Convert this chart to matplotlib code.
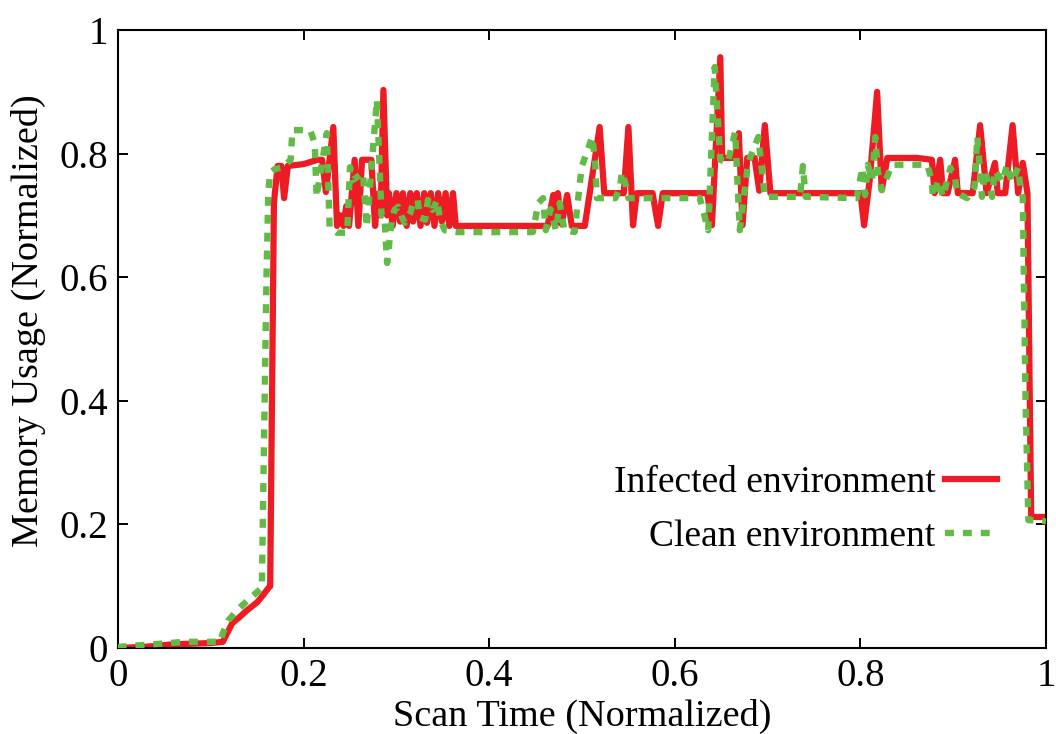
import matplotlib
matplotlib.use("Agg")
import matplotlib.pyplot as plt

# Infected environment (red, solid)
infected_x = [0.000, 0.030, 0.060, 0.100, 0.113, 0.118, 0.123, 0.131, 0.139, 0.145, 0.150, 0.156, 0.162,
              0.164, 0.168, 0.172, 0.176, 0.179, 0.183, 0.200, 0.215, 0.220, 0.224, 0.232, 0.236,
              0.240, 0.243, 0.246, 0.249, 0.255, 0.259, 0.263, 0.273, 0.277, 0.280, 0.283, 0.286,
              0.290, 0.292, 0.296, 0.300, 0.304, 0.307, 0.311, 0.315, 0.318, 0.322, 0.326, 0.330,
              0.333, 0.337, 0.341, 0.345, 0.349, 0.353, 0.357, 0.361, 0.364, 0.463, 0.469, 0.471,
              0.474, 0.478, 0.484, 0.489, 0.503, 0.519, 0.524, 0.545, 0.550, 0.555, 0.559, 0.576,
              0.582, 0.587, 0.635, 0.640, 0.649, 0.651, 0.665, 0.669, 0.673, 0.678, 0.686, 0.691,
              0.697, 0.703, 0.800, 0.804, 0.810, 0.818, 0.823, 0.829, 0.861, 0.877, 0.880, 0.886,
              0.889, 0.894, 0.902, 0.905, 0.921, 0.929, 0.936, 0.945, 0.948, 0.956, 0.964, 0.970,
              0.975, 0.980, 0.984, 1.000]
infected_y = [0.000, 0.002, 0.006, 0.008, 0.010, 0.025, 0.040, 0.050, 0.061, 0.068, 0.074, 0.085, 0.097,
              0.100, 0.720, 0.780, 0.780, 0.728, 0.780, 0.783, 0.790, 0.790, 0.738, 0.843, 0.683,
              0.700, 0.683, 0.715, 0.683, 0.790, 0.683, 0.790, 0.790, 0.683, 0.735, 0.700, 0.903,
              0.700, 0.736, 0.683, 0.736, 0.690, 0.736, 0.683, 0.736, 0.690, 0.736, 0.683, 0.736,
              0.688, 0.736, 0.683, 0.736, 0.690, 0.736, 0.683, 0.736, 0.683, 0.683, 0.733, 0.683,
              0.736, 0.686, 0.733, 0.683, 0.683, 0.843, 0.736, 0.736, 0.843, 0.684, 0.736, 0.736,
              0.683, 0.736, 0.736, 0.684, 0.956, 0.793, 0.793, 0.833, 0.684, 0.793, 0.793, 0.740,
              0.846, 0.736, 0.736, 0.684, 0.757, 0.900, 0.741, 0.793, 0.793, 0.790, 0.736, 0.790,
              0.736, 0.736, 0.790, 0.736, 0.736, 0.846, 0.736, 0.785, 0.736, 0.736, 0.846, 0.736,
              0.785, 0.736, 0.212, 0.212]

# Clean environment (green, dotted)
clean_x = [0.000, 0.002, 0.056, 0.070, 0.110, 0.113, 0.119, 0.131, 0.144, 0.155, 0.160, 0.162, 0.164,
           0.169, 0.178, 0.186, 0.188, 0.207, 0.212, 0.214, 0.225, 0.228, 0.236, 0.247, 0.250,
           0.253, 0.264, 0.268, 0.279, 0.284, 0.287, 0.290, 0.295, 0.298, 0.302, 0.306, 0.309,
           0.315, 0.318, 0.323, 0.325, 0.331, 0.334, 0.339, 0.344, 0.347, 0.352, 0.366, 0.447,
           0.453, 0.458, 0.461, 0.466, 0.472, 0.476, 0.481, 0.492, 0.498, 0.500, 0.511, 0.514,
           0.516, 0.536, 0.541, 0.543, 0.548, 0.550, 0.627, 0.636, 0.643, 0.649, 0.657, 0.665,
           0.670, 0.679, 0.690, 0.697, 0.735, 0.738, 0.741, 0.796, 0.802, 0.805, 0.808, 0.8125,
           0.816, 0.819, 0.823, 0.834, 0.872, 0.877, 0.878, 0.884, 0.889, 0.897, 0.902, 0.904,
           0.915, 0.923, 0.926, 0.931, 0.934, 0.942, 0.945, 0.953, 0.958, 0.963, 0.970, 0.972,
           0.975, 0.978, 0.981, 1.000]
clean_y = [0.000, 0.002, 0.008, 0.010, 0.010, 0.024, 0.045, 0.065, 0.083, 0.097, 0.600, 0.740, 0.769,
           0.775, 0.778, 0.790, 0.838, 0.838, 0.817, 0.730, 0.833, 0.681, 0.672, 0.672, 0.778,
           0.757, 0.769, 0.681, 0.887, 0.700, 0.700, 0.623, 0.693, 0.709, 0.714, 0.697, 0.688,
           0.704, 0.720, 0.725, 0.697, 0.693, 0.725, 0.709, 0.725, 0.693, 0.676, 0.673, 0.673,
           0.720, 0.728, 0.676, 0.710, 0.676, 0.720, 0.676, 0.673, 0.757, 0.780, 0.827, 0.790,
           0.728, 0.728, 0.745, 0.770, 0.745, 0.728, 0.728, 0.676, 0.940, 0.790, 0.785, 0.835,
           0.676, 0.785, 0.827, 0.730, 0.730, 0.780, 0.730, 0.728, 0.777, 0.733, 0.782, 0.757,
           0.827, 0.769, 0.741, 0.782, 0.782, 0.757, 0.730, 0.757, 0.730, 0.777, 0.762, 0.736,
           0.728, 0.746, 0.827, 0.730, 0.773, 0.730, 0.773, 0.754, 0.782, 0.754, 0.777, 0.752,
           0.728, 0.400, 0.207, 0.205]

ticks = [0, 0.2, 0.4, 0.6, 0.8, 1]
tick_labels = ["0", "0.2", "0.4", "0.6", "0.8", "1"]

plt.rcParams['font.family'] = ['Liberation Serif', 'DejaVu Serif']

fig = plt.figure(figsize=(10.56, 7.34), dpi=100)
ax = fig.add_axes([118/1056, 1 - 648/734, (1046-118)/1056, (648-30)/734])

red = "#ED1C24"
green = "#62BB46"
ax.plot(infected_x, infected_y, color=red, lw=4.5, solid_joinstyle='round',
        label="Infected environment", zorder=2)
ax.plot(clean_x, clean_y, color=green, lw=4.6, linestyle=(0, (1.4, 1.4)),
        dash_capstyle='butt', label="Clean environment", zorder=3)

ax.set_xlim(0, 1)
ax.set_ylim(0, 1)
ax.set_xticks(ticks)
ax.set_xticklabels(tick_labels)
ax.set_yticks(ticks)
ax.set_yticklabels(tick_labels)
ax.tick_params(direction='in', length=7, width=1.4, labelsize=28, top=True, right=True, pad=7)
for s in ax.spines.values():
    s.set_linewidth(1.5)

ax.set_xlabel("Scan Time (Normalized)", fontsize=27.5, labelpad=3)
ax.set_ylabel("Memory Usage (Normalized)", fontsize=27.5)
ax.yaxis.set_label_coords(-0.078, 0.53)

leg = ax.legend(loc='upper right', bbox_to_anchor=(0.9634, 0.319), frameon=False,
                markerfirst=False, fontsize=27, handlelength=1.4, handletextpad=0.25,
                labelspacing=0.51, borderaxespad=0.0)
for t in leg.get_texts():
    t.set_ha('right')

fig.savefig("out.png", dpi=100)
